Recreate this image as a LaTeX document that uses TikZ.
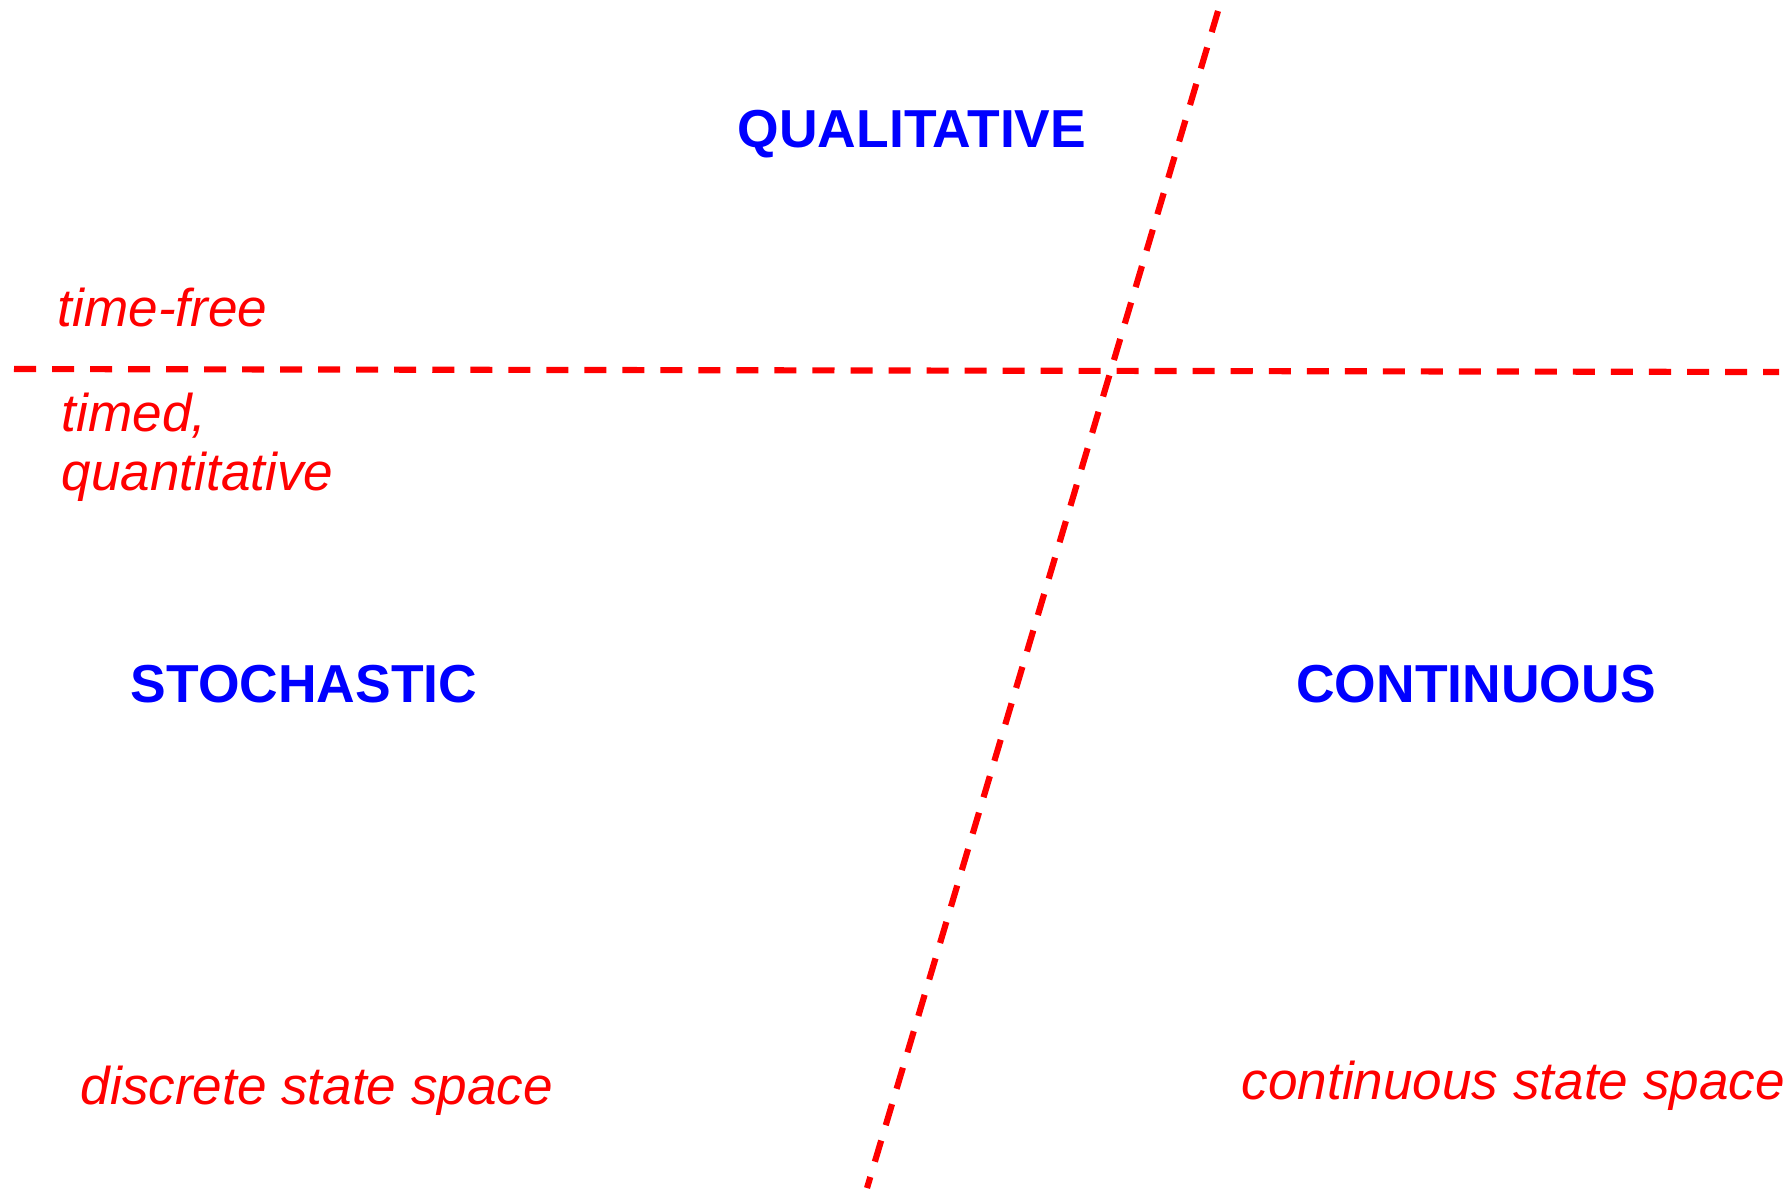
\documentclass[tikz,border=0pt]{standalone}
\usepackage{fontspec}
\setmainfont{Liberation Sans}
\begin{document}
\begin{tikzpicture}[x=0.01cm,y=-0.01cm,
  divider/.style={draw=red,line width=1.75pt,dash pattern=on 0.22cm off 0.16cm},
  axislabel/.style={text=blue,font=\fontsize{15.2pt}{17pt}\selectfont\bfseries,inner sep=0pt},
  sidelabel/.style={text=red,font=\fontsize{15.1pt}{16.6pt}\selectfont\itshape,inner sep=0pt,align=left}]
\useasboundingbox (0,0) rectangle (1792,1190);
% dividers
\coordinate (hl) at (14,369);
\coordinate (hr) at (1779,372);
\coordinate (st) at (1218,11);
\coordinate (sb) at (867,1188);
\draw[divider] (hl) -- (hr);
\draw[divider] (st) -- (sb);
% labels
\node[axislabel,anchor=base] (qual) at (912,147) {QUALITATIVE};
\node[axislabel,anchor=base] (stoch) at (304,702) {STOCHASTIC};
\node[axislabel,anchor=base] (cont) at (1476,702) {CONTINUOUS};
\node[sidelabel,anchor=base west] (free) at (57,326) {time-free};
\node[sidelabel,anchor=base west] (timed) at (61,490) {timed,\\quantitative};
\node[sidelabel,anchor=base west] (disc) at (80,1104) {discrete state space};
\node[sidelabel,anchor=base west] (cspace) at (1241,1099) {continuous state space};
\end{tikzpicture}
\end{document}
